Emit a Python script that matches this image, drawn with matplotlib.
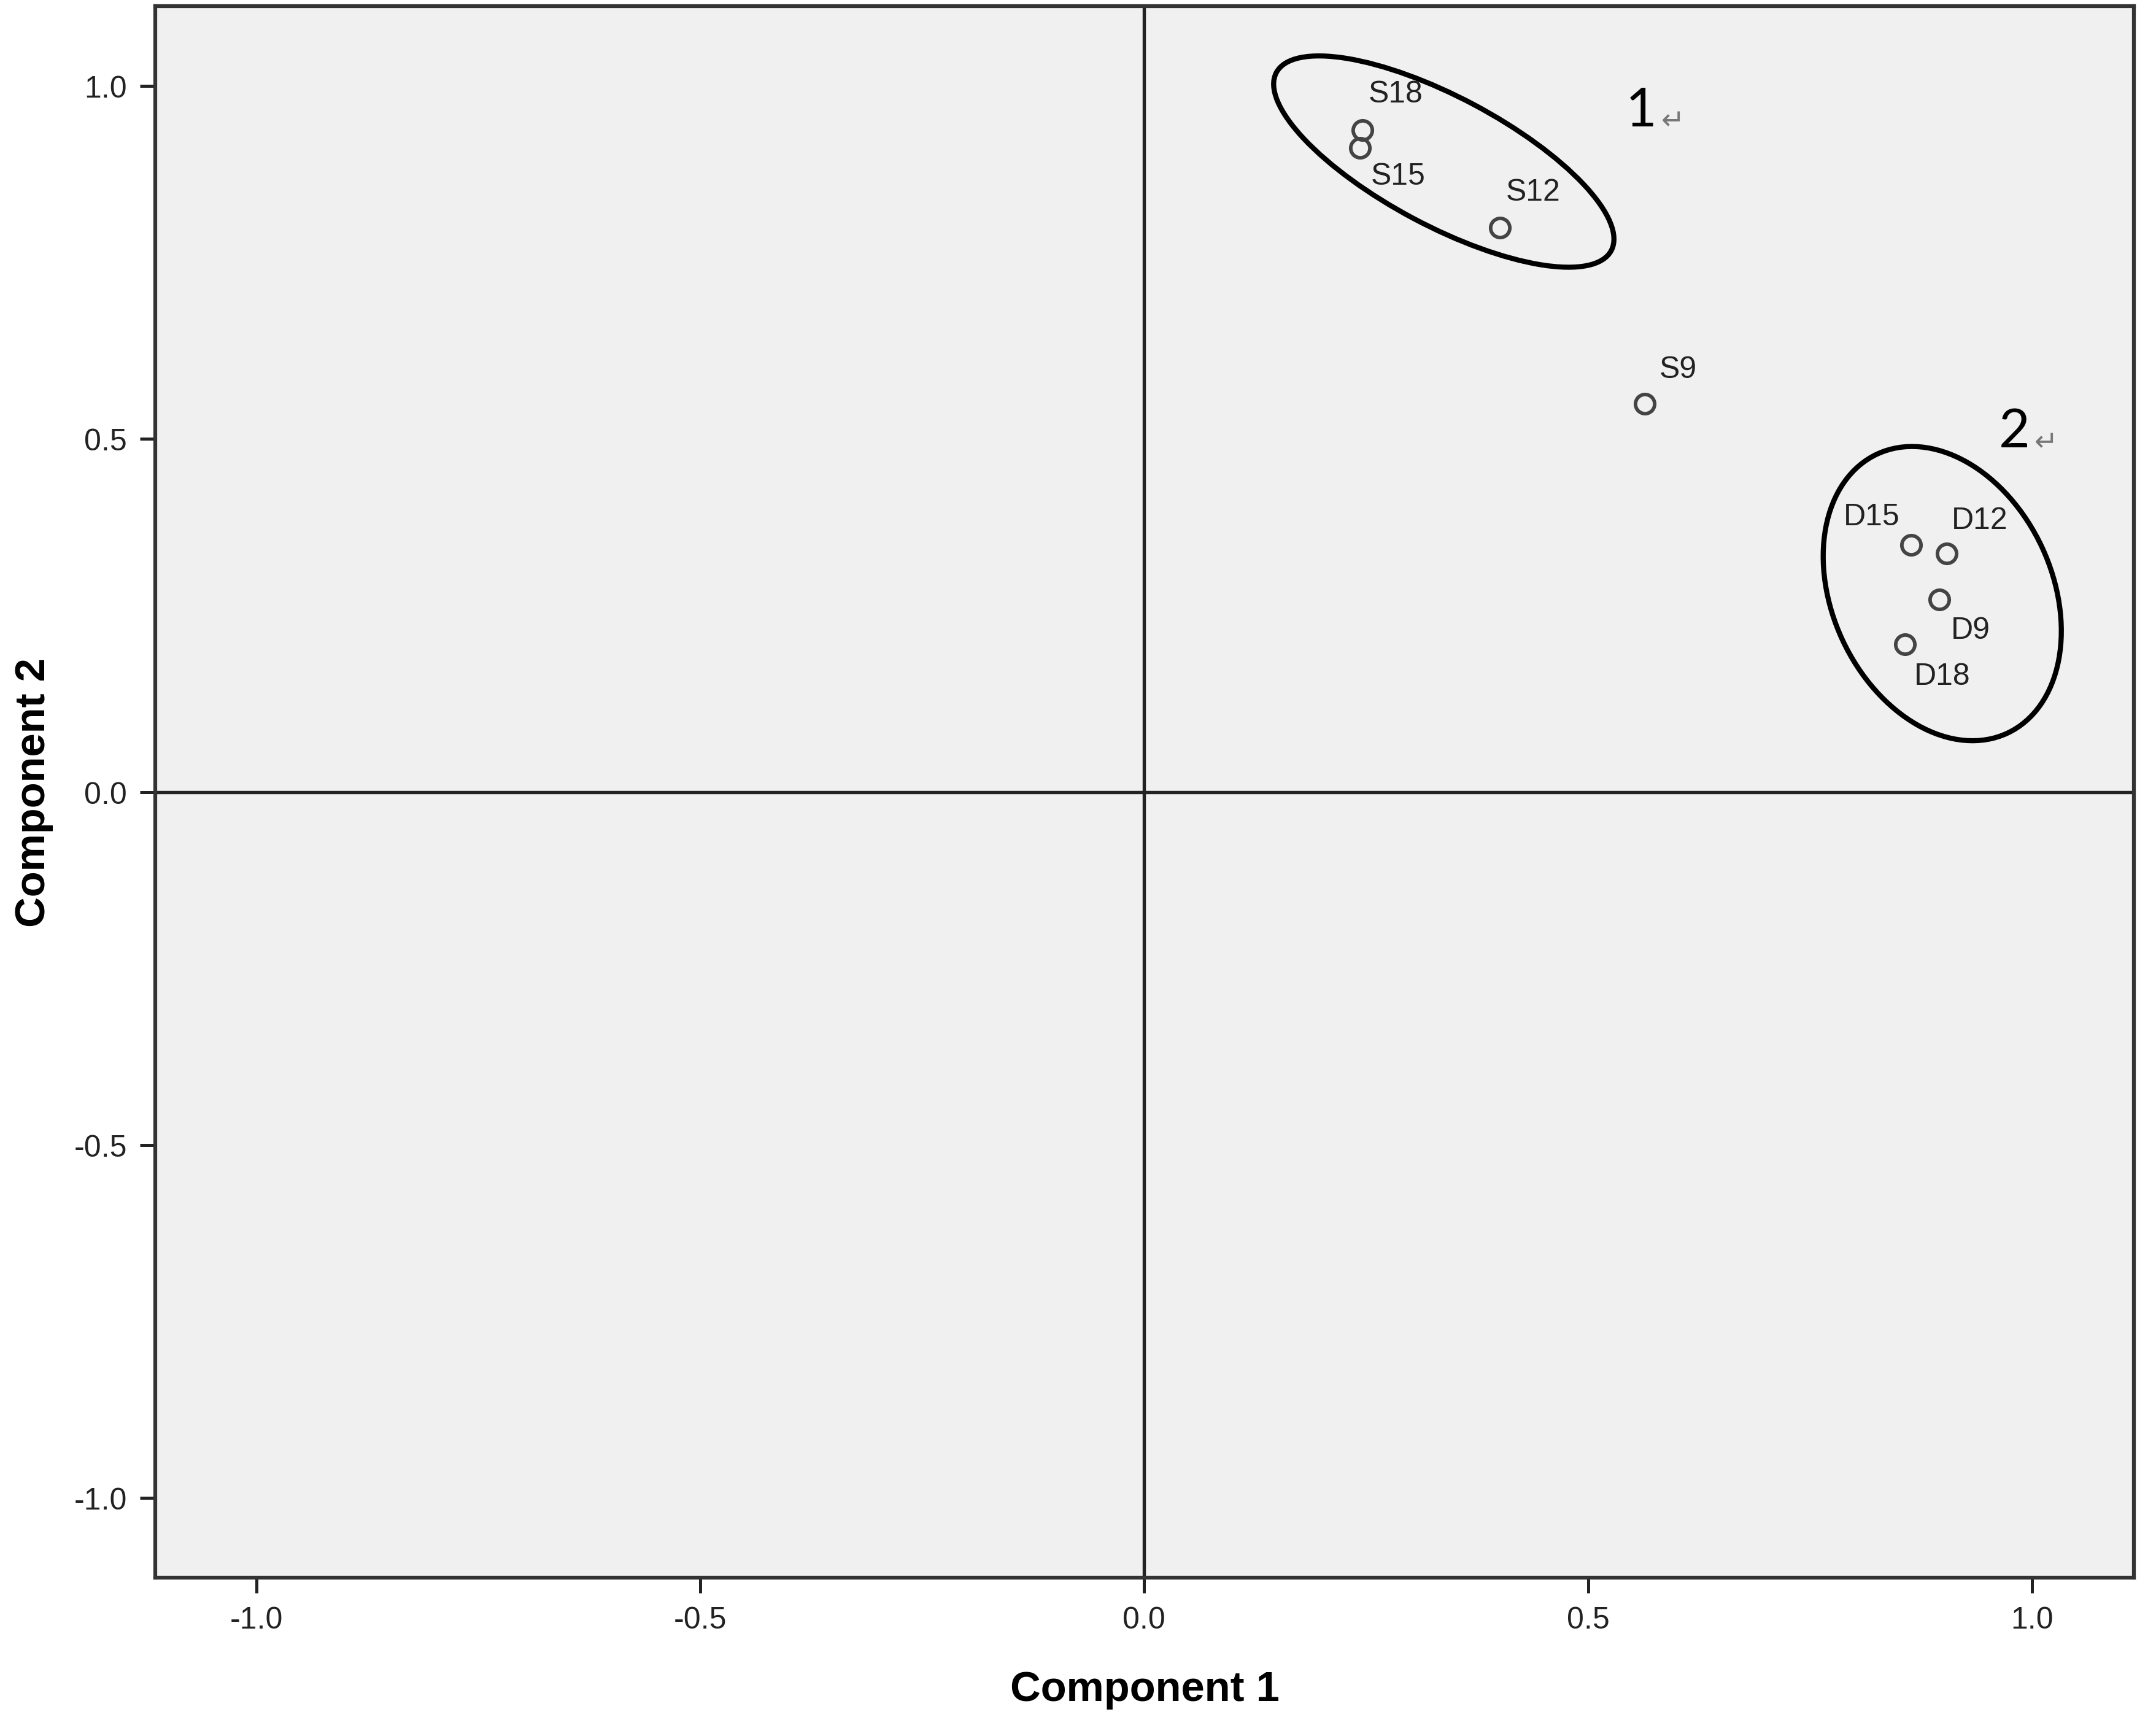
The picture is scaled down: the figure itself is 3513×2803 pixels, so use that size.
import matplotlib.pyplot as plt
from matplotlib.patches import Ellipse
from matplotlib.transforms import ScaledTranslation

plt.rcParams["axes.unicode_minus"] = False
plt.rcParams["font.family"] = ["Liberation Sans", "DejaVu Sans"]

# component loadings
labels = ["S18", "S15", "S12", "S9", "D15", "D12", "D9", "D18"]
comp1 = [0.246, 0.243, 0.401, 0.564, 0.864, 0.904, 0.896, 0.857]
comp2 = [0.938, 0.912, 0.799, 0.550, 0.350, 0.338, 0.273, 0.209]

# where each label sits relative to its point (points)
label_offsets = [(13, 14), (15, -11), (13, 14), (13, 13.5),
                 (-15.5, 11), (13, 13), (12, -12), (14.5, -12.5)]

ticks = [-1.0, -0.5, 0.0, 0.5, 1.0]
tick_labels = ["-1.0", "-0.5", "0.0", "0.5", "1.0"]

# groups circled by hand: centre (data), width, height (inches), angle
groups = ["1", "2"]
group_centres = [(0.3375, 0.893), (0.899, 0.281)]
group_sizes = [(2.06, 0.70, -28), (1.673, 1.195, -65)]
group_label_pos = [(0.56, 0.965), (0.98, 0.51)]

fig = plt.figure(figsize=(3513 / 300, 2804 / 300), dpi=300)
ax = fig.add_axes([0.072, 0.0827, 0.9178, 0.9133])
ax.set_facecolor("#f0f0f0")

ax.set_xlim(-1.114, 1.115)
ax.set_ylim(-1.113, 1.113)

ax.axhline(0, color="#222222", lw=1.3, zorder=1)
ax.axvline(0, color="#222222", lw=1.3, zorder=1)

ax.plot(comp1, comp2, "o", ms=7.5, mfc="none", mec="#444444", mew=1.4, zorder=3)

for lab, x, y, off in zip(labels, comp1, comp2, label_offsets):
    ax.annotate(lab, (x, y), xytext=off, textcoords="offset points",
                ha="center", va="center", fontsize=12, color="#222222")

for centre, size in zip(group_centres, group_sizes):
    tr = fig.dpi_scale_trans + ScaledTranslation(centre[0], centre[1], ax.transData)
    e = Ellipse((0, 0), size[0], size[1], angle=size[2], fill=False,
                ec="black", lw=2.0, transform=tr, zorder=4)
    ax.add_patch(e)

for g, pos in zip(groups, group_label_pos):
    ax.text(pos[0], pos[1], g, fontsize=21, family=["Lato", "DejaVu Sans"],
            ha="center", va="center", color="black")
    ax.annotate("\u21b5", pos, xytext=(12.5, -4), textcoords="offset points",
                fontsize=11, color="#777777", ha="center", va="center",
                family=["DejaVu Sans"])

ax.set_xticks(ticks)
ax.set_xticklabels(tick_labels)
ax.set_yticks(ticks)
ax.set_yticklabels(tick_labels)
ax.tick_params(direction="out", length=6, width=1.2, color="#222222",
               labelsize=12, labelcolor="#222222", pad=5)

for s in ax.spines.values():
    s.set_color("#333333")
    s.set_linewidth(1.5)

ax.set_xlabel("Component 1", fontsize=16.5, fontweight="bold", labelpad=14)
ax.set_ylabel("Component 2", fontsize=16.5, fontweight="bold", labelpad=8)

fig.savefig("out.png", dpi=300, facecolor="white")
